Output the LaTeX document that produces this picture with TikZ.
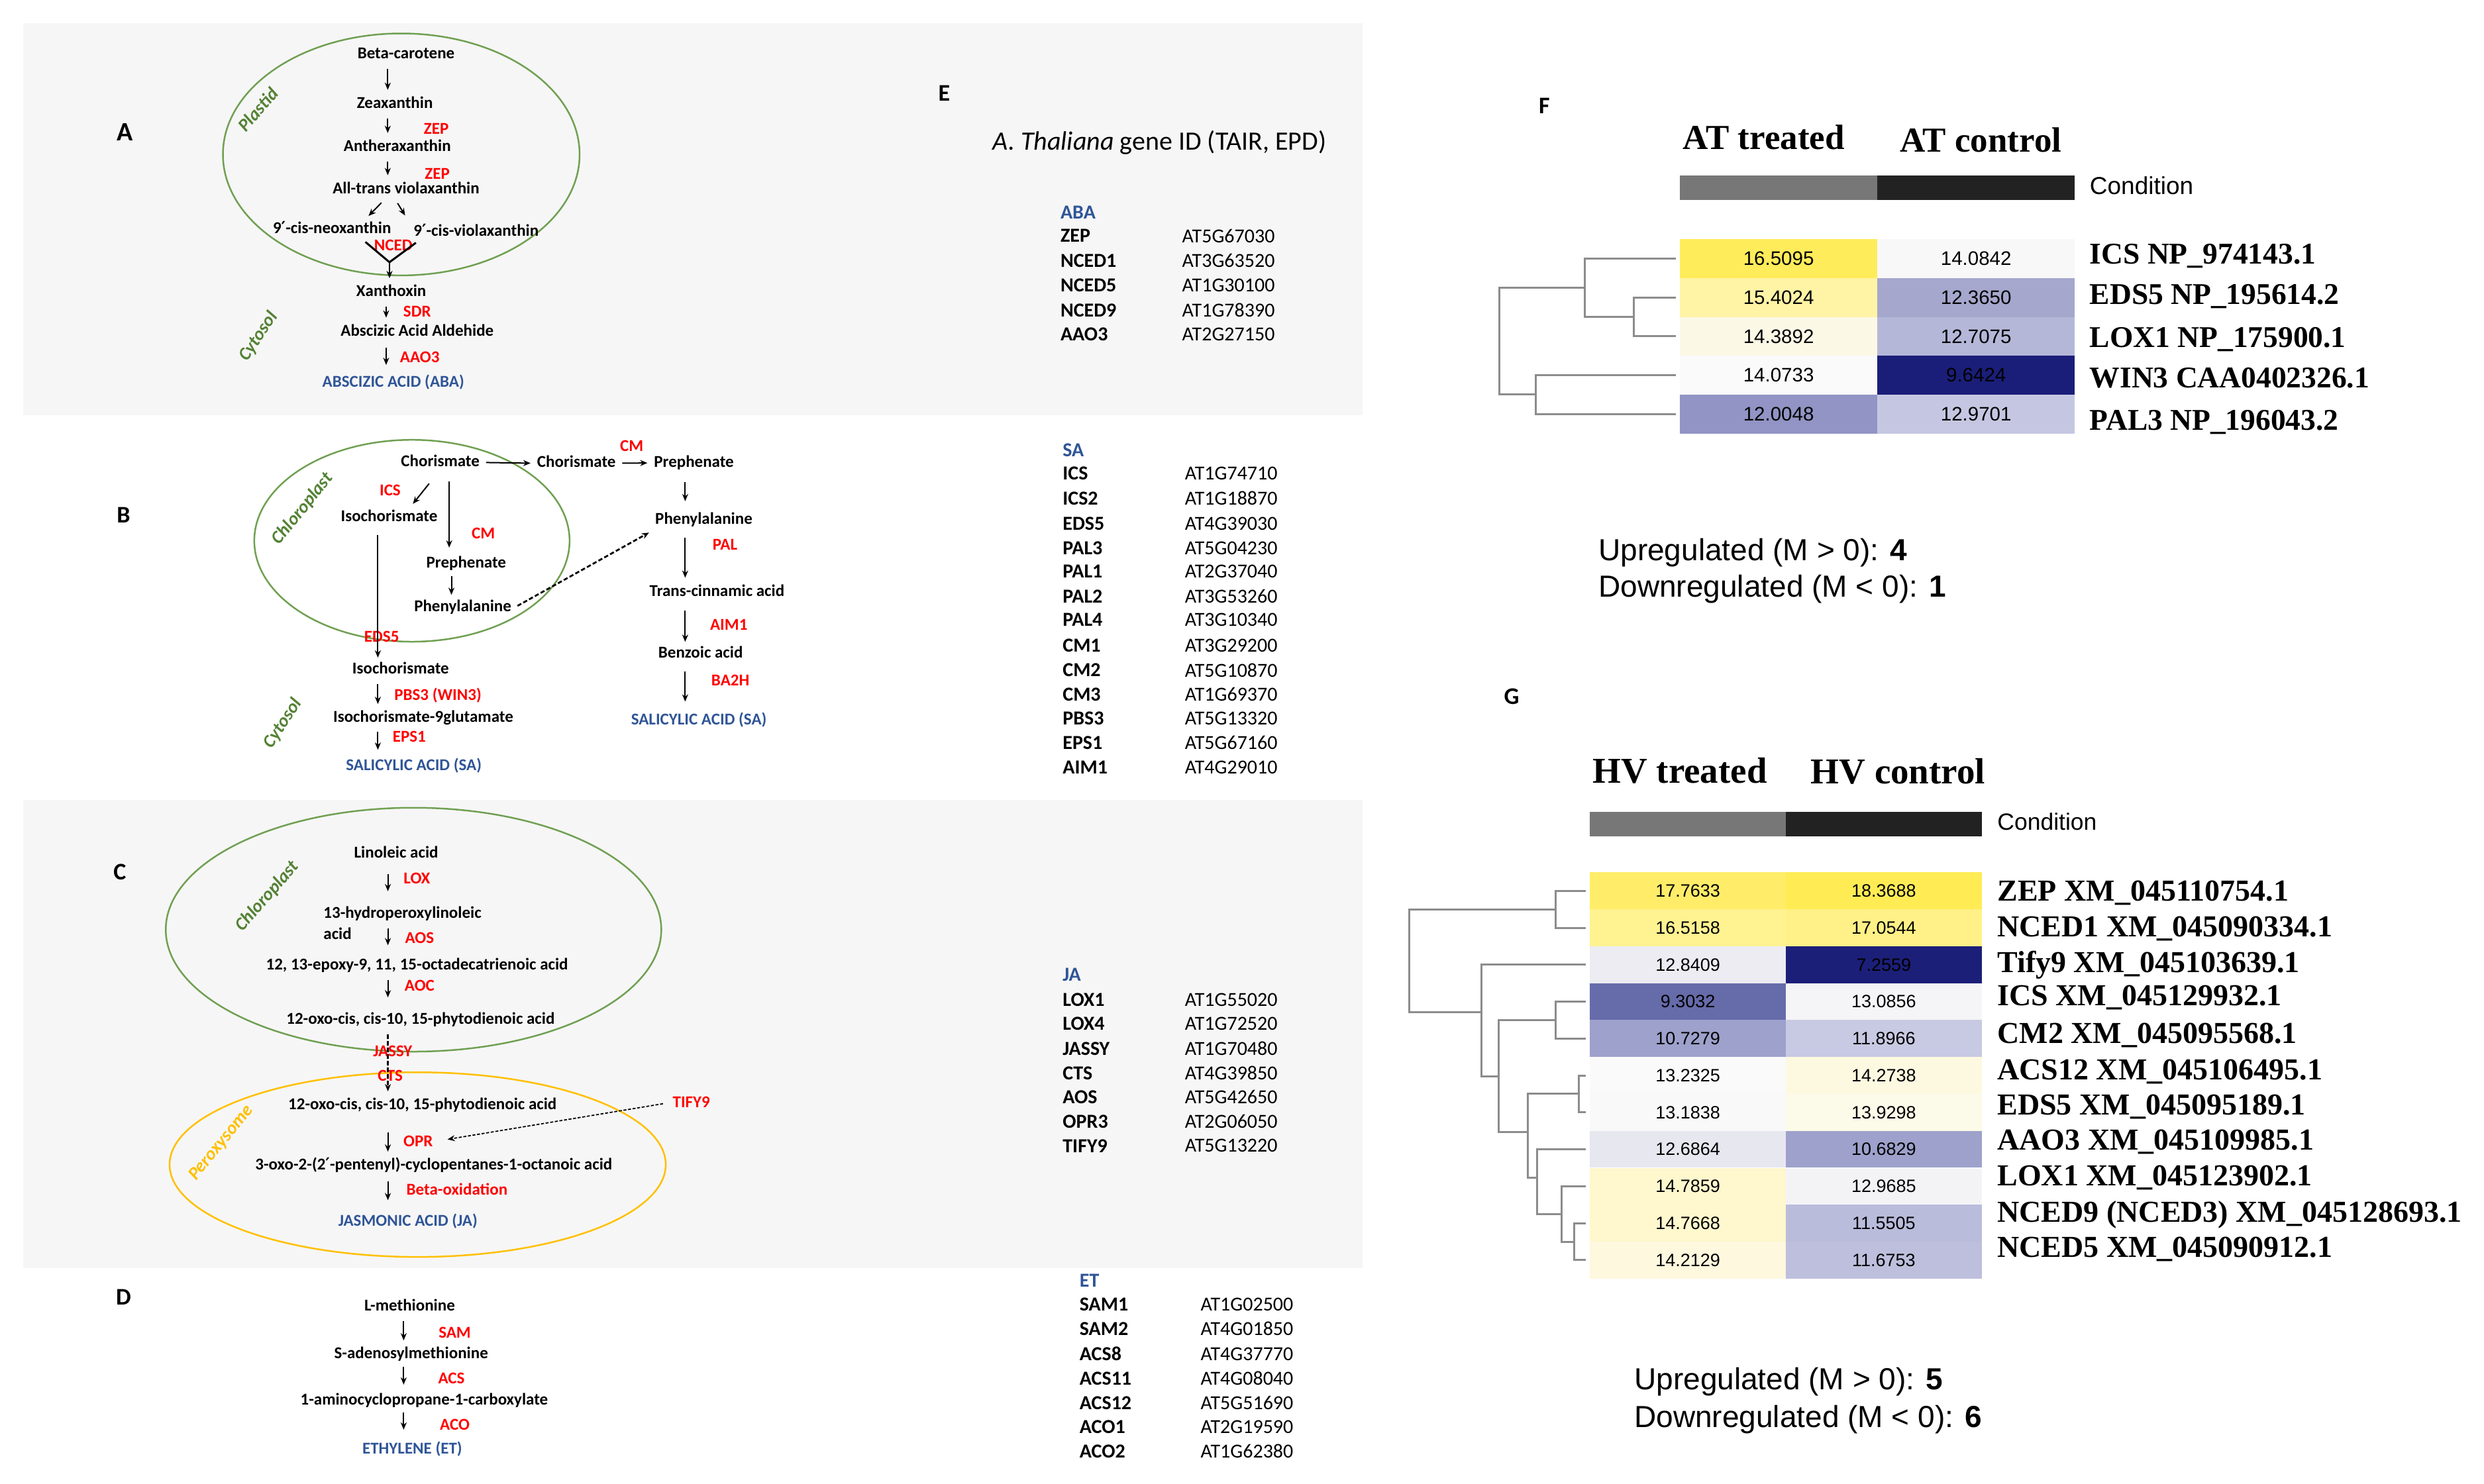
\documentclass[tikz,border=0pt]{standalone}
\usepackage{fontspec}
\setmainfont{Carlito}
\newfontfamily\tnr{Liberation Serif}
\newfontfamily\arl{Liberation Sans}
\newfontfamily\djv{DejaVu Sans}
\newcommand{\prm}{{\djv ′}}
\usepackage{xcolor}
\usepackage{tikz}
\usetikzlibrary{arrows.meta,calc}
\definecolor{plastgreen}{RGB}{84, 130, 53}
\definecolor{plastline}{RGB}{112, 160, 82}
\definecolor{perox}{RGB}{255, 192, 0}
\definecolor{hormone}{RGB}{47, 85, 151}
\definecolor{enzred}{RGB}{255, 0, 0}
\definecolor{panelbg}{RGB}{246, 246, 246}
\definecolor{dendrogray}{RGB}{140, 140, 140}

\tikzset{
  cpd/.style={font=\bfseries\fontsize{5}{6}\selectfont, inner sep=0.8pt, text height=3.5pt, text depth=1.1pt},
  enz/.style={font=\bfseries\fontsize{5}{6}\selectfont, inner sep=0.3pt, text=enzred},
  hrm/.style={cpd, text=hormone},
  cmpt/.style={font=\bfseries\itshape\fontsize{5.5}{6}\selectfont, text=plastgreen, inner sep=0pt},
  plbl/.style={font=\bfseries\fontsize{7.2}{8}\selectfont, inner sep=0pt},
  rxn/.style={-{Stealth[length=2.2pt,width=1.8pt]}, line width=0.4pt, shorten <=1pt, shorten >=1pt},
  rxndash/.style={rxn, dash pattern=on 1.3pt off 0.7pt, line width=0.55pt},
  rxndot/.style={rxn, dash pattern=on 0.9pt off 0.5pt, line width=0.35pt},
  gname/.style={font=\bfseries\fontsize{6}{7}\selectfont, anchor=west, inner sep=0pt},
  gid/.style={font=\fontsize{6}{7}\selectfont, anchor=west, inner sep=0pt},
  ghead/.style={gname, text=hormone},
  fcell/.style={minimum width=59.6pt, minimum height=11.73pt, inner sep=0pt, font=\arl\fontsize{5.9}{6}\selectfont},
  gcell/.style={minimum width=59.1pt, minimum height=11.15pt, inner sep=0pt, font=\arl\fontsize{5.4}{6}\selectfont},
  rowlbl/.style={font=\tnr\bfseries\fontsize{9.1}{10}\selectfont, anchor=base west, inner sep=0pt},
  colhdr/.style={font=\tnr\bfseries\fontsize{10.6}{12}\selectfont, inner sep=0pt},
  cndlbl/.style={font=\arl\fontsize{7.4}{8}\selectfont, anchor=west, inner sep=0pt},
  uplbl/.style={font=\arl\fontsize{9.2}{10}\selectfont, anchor=west, inner sep=0pt},
  dendro/.style={draw=dendrogray, line width=0.6pt},
  twig/.style={dendro, shorten >=1pt}
}

\begin{document}
\begin{tikzpicture}[x=0.4808pt,y=0.4808pt,yscale=-1,xscale=1]
\useasboundingbox (0,0) rectangle (1560,932);

%Shape: Rectangle
\fill[panelbg] (14.6,14.4) rectangle (855.5,260.7);
%Shape: Rectangle
\fill[panelbg] (14.6,502.7) rectangle (855.5,796.6);

%Shape: Ellipse
\draw[plastline, line width=0.5pt] (252,97) ellipse [x radius=112, y radius=76];
%Shape: Ellipse
\draw[plastline, line width=0.5pt] (258.7,339.7) ellipse [x radius=99, y radius=63.4];
%Shape: Ellipse
\draw[plastline, line width=0.5pt] (259.7,584) ellipse [x radius=155.6, y radius=76.6];
%Shape: Ellipse
\draw[perox, line width=0.5pt] (262.3,731.6) ellipse [x radius=155.8, y radius=58];

% Panel letters
\node[plbl, font=\bfseries\fontsize{8}{9}\selectfont] (lA) at (78.3,83.2) {A};
\node[plbl] (lB) at (77.6,323.6) {B};
\node[plbl] (lC) at (75.3,547.8) {C};
\node[plbl] (lD) at (77.6,815) {D};
\node[plbl] (lE) at (593,58.5) {E};
\node[plbl] (lF) at (969.8,66.3) {F};
\node[plbl] (lG) at (949.3,437.5) {G};

% Text Node -- panel A
\node[cpd] (bcar) at (255,34.5) {Beta-carotene};
\node[cpd] (zea) at (248,65.4) {Zeaxanthin};
\node[cpd] (anth) at (249.5,92.5) {Antheraxanthin};
\node[cpd] (atv) at (255,119) {All-trans violaxanthin};
\node[cpd] (neo) at (208.5,144) {9\prm-cis-neoxanthin};
\node[cpd] (vio) at (299,146) {9\prm-cis-violaxanthin};
\node[cpd] (xan) at (245.7,183.7) {Xanthoxin};
\node[cpd] (aald) at (262,208.5) {Abscizic Acid Aldehide};
\node[hrm] (aba) at (247,240.7) {ABSCIZIC ACID (ABA)};
\node[enz] (zep1) at (274,80.7) {ZEP};
\node[enz] (zep2) at (274.6,109) {ZEP};
\node[enz] (nced) at (247,154) {NCED};
\node[enz] (sdr) at (262,195.7) {SDR};
\node[enz] (aao) at (263.6,224.5) {AAO3};
\node[cmpt, rotate=49] (plastid) at (162,68.7) {Plastid};
\node[cmpt, rotate=56] (cytA) at (162.4,211.4) {Cytosol};

%Straight Lines -- panel A
\coordinate (colA) at (243.5,0);
\coordinate (colA2) at (242.5,0);
\draw[rxn] (bcar.south -| colA) -- (zea.north -| colA);
\draw[rxn] (zea.south -| colA) -- (anth.north -| colA);
\draw[rxn] (anth.south -| colA) -- (atv.north -| colA);
\draw[rxn] ($(atv.south)+(-14,0)$) -- ($(neo.north)+(21.5,0)$);
\draw[rxn] ($(atv.south)+(-6.4,0)$) -- ($(vio.north)+(-43.5,-2)$);
\coordinate (ncl) at (229.5,152);
\coordinate (ncr) at (261.2,152.5);
\coordinate (ncm) at (244.6,164.7);
\draw[line width=0.6pt] (ncl) -- (ncm) -- (ncr);
\draw[rxn, shorten <=0pt] (ncm) -- (xan.north -| ncm);
\draw[rxn] (xan.south -| colA2) -- (aald.north -| colA2);
\draw[rxn, shorten <=1.5pt, shorten >=2.2pt] (aald.south -| colA2) -- (aba.north -| colA2);

% Text Node -- panel B
\node[cpd] (cho1) at (276.5,290.5) {Chorismate};
\node[cpd] (cho2) at (362,291) {Chorismate};
\node[cpd] (preR) at (435.8,290.8) {Prephenate};
\node[enz] (cmR) at (396.7,280) {CM};
\node[enz] (ics) at (245,308) {ICS};
\node[cpd] (iso1) at (244.4,325) {Isochorismate};
\node[enz] (cmL) at (303.5,335.2) {CM};
\node[cpd] (preL) at (292.8,354.4) {Prephenate};
\node[cpd] (pheL) at (290.6,381.6) {Phenylalanine};
\node[cpd] (pheR) at (442,326.7) {Phenylalanine};
\node[enz] (pal) at (455.3,342) {PAL};
\node[cpd] (tca) at (450.3,371.9) {Trans-cinnamic acid};
\node[enz] (aim) at (457.7,392.4) {AIM1};
\node[cpd] (bzo) at (440,410.9) {Benzoic acid};
\node[enz] (ba2h) at (458.7,427.3) {BA2H};
\node[hrm] (saR) at (438.9,452.8) {SALICYLIC ACID (SA)};
\node[enz] (eds) at (239.7,399.8) {EDS5};
\node[cpd] (iso2) at (251.6,420.8) {Isochorismate};
\node[enz] (pbs) at (275,436.9) {PBS3 (WIN3)};
\node[cpd] (igl) at (265.8,451.2) {Isochorismate-9glutamate};
\node[enz] (eps) at (257,462.7) {EPS1};
\node[hrm] (saL) at (259.9,481.6) {SALICYLIC ACID (SA)};
\node[cmpt, rotate=51] (chlB) at (190,319.6) {Chloroplast};
\node[cmpt, rotate=57] (cytB) at (177.6,454.5) {Cytosol};

%Straight Lines -- panel B
\coordinate (colB1) at (282.1,0);
\coordinate (colB2) at (283.5,0);
\coordinate (colB3) at (237.3,0);
\coordinate (colB4) at (430.3,0);
\draw[rxn] (cho1.east) -- (cho2.west);
\draw[rxn] (cho2.east) -- (preR.west);
\draw[rxn] ($(cho1.south)+(-5.7,4.8)$) -- ($(iso1.north)+(13.6,0)$);
\draw[rxn, shorten <=2.5pt, shorten >=1.7pt] (cho1.south -| colB1) -- (preL.north -| colB1);
\draw[rxn, shorten <=0.3pt, shorten >=0.5pt] (preL.south -| colB2) -- (pheL.north -| colB2);
\draw[rxn, shorten <=2pt, shorten >=0.4pt] (iso1.south -| colB3) -- (iso2.north -| colB3);
\draw[rxn] (iso2.south -| colB3) -- (igl.north -| colB3);
\draw[rxn, shorten <=0.7pt, shorten >=1.8pt] (igl.south -| colB3) -- (saL.north -| colB3);
\draw[rxn, shorten <=2.4pt, shorten >=2.4pt] (preR.south -| colB4) -- (pheR.north -| colB4);
\draw[rxn, shorten <=2pt] (pheR.south -| colB4) -- (tca.north -| colB4);
\draw[rxn, shorten <=2.3pt, shorten >=0.4pt] (tca.south -| colB4) -- (bzo.north -| colB4);
\draw[rxn, shorten <=1.9pt, shorten >=2.5pt] (bzo.south -| colB4) -- (saR.north -| colB4);
\draw[rxndash] (pheL.east) -- (pheR.south west);

% Text Node -- panel C
\node[cpd] (lin) at (248.8,536.5) {Linoleic acid};
\node[cpd, anchor=west] (hpl) at (201.1,574.2) {13-hydroperoxylinoleic};
\node[cpd, anchor=west] (hpla) at (201.1,587.5) {acid};
\node[cpd] (epx) at (261.9,606.7) {12, 13-epoxy-9, 11, 15-octadecatrienoic acid};
\node[cpd] (opda1) at (264.1,640.9) {12-oxo-cis, cis-10, 15-phytodienoic acid};
\node[cpd] (opda2) at (265.3,694.5) {12-oxo-cis, cis-10, 15-phytodienoic acid};
\node[cpd] (opc) at (272.4,732.4) {3-oxo-2-(2\prm-pentenyl)-cyclopentanes-1-octanoic acid};
\node[hrm] (ja) at (256.2,767.7) {JASMONIC ACID (JA)};
\node[enz] (lox) at (261.8,551.8) {LOX};
\node[enz] (aos) at (263.5,589) {AOS};
\node[enz] (aoc) at (263.5,619.3) {AOC};
\node[enz] (jassy) at (246.6,660.5) {JASSY};
\node[enz] (cts) at (245.1,675.8) {CTS};
\node[enz] (opr) at (262.6,717.1) {OPR};
\node[enz] (betox) at (287,746.9) {Beta-oxidation};
\node[enz] (tify) at (434.2,692.5) {TIFY9};
\node[cmpt, rotate=49] (chlC) at (167.8,563) {Chloroplast};
\node[cmpt, rotate=51, text=perox] (perx) at (139,718) {Peroxysome};

%Straight Lines -- panel C
\coordinate (colC) at (243.6,0);
\draw[rxn, shorten <=2.8pt, shorten >=3.6pt] (lin.south -| colC) -- (hpl.north -| colC);
\draw[rxn, shorten >=2.9pt] (hpl.south -| colC) -- (epx.north -| colC);
\draw[rxn, shorten >=3.6pt] (epx.south -| colC) -- (opda1.north -| colC);
\draw[rxndash, line width=0.45pt] (opda1.south -| colC) -- (opda2.north -| colC);
\draw[rxn, shorten <=4.8pt] (opda2.south -| colC) -- (opc.north -| colC);
\draw[rxn, shorten <=1.4pt, shorten >=3.3pt] (opc.south -| colC) -- (ja.north -| colC);
\draw[rxndot, shorten <=2.5pt, shorten >=4pt] (tify.west) -- (opr.east);

% Text Node -- panel D
\node[cpd] (met) at (257.3,821) {L-methionine};
\node[cpd] (sad) at (258.2,851) {S-adenosylmethionine};
\node[cpd] (acc) at (266.4,880) {1-aminocyclopropane-1-carboxylate};
\node[hrm] (eth) at (258.9,911) {ETHYLENE (ET)};
\node[enz] (sam) at (285.6,837) {SAM};
\node[enz] (acs) at (283.5,866) {ACS};
\node[enz] (aco) at (285.6,895) {ACO};

%Straight Lines -- panel D
\coordinate (colD) at (253.5,0);
\draw[rxn] (met.south -| colD) -- (sad.north -| colD);
\draw[rxn, shorten <=0.3pt, shorten >=1.6pt] (sad.south -| colD) -- (acc.north -| colD);
\draw[rxn, shorten <=0.2pt, shorten >=2.9pt] (acc.south -| colD) -- (eth.north -| colD);

% Text Node -- panel E
\node[font=\fontsize{8}{9}\selectfont, inner sep=0pt] (etitle) at (728.2,89.7) {\textit{A. Thaliana} gene ID (TAIR, EPD)};
\node[ghead] (abaH) at (665.6,133.5) {ABA};
\node[gname] (eZEP) at (665.6,148.1) {ZEP};
\node[gname] (eNCED1) at (665.6,163.6) {NCED1};
\node[gname] (eNCED5) at (665.6,179.3) {NCED5};
\node[gname] (eNCED9) at (665.6,194.8) {NCED9};
\node[gname] (eAAO3) at (665.6,210) {AAO3};
\node[gid] (iZEP) at (742,148.1) {AT5G67030};
\node[gid] (iNCED1) at (742,163.6) {AT3G63520};
\node[gid] (iNCED5) at (742,179.3) {AT1G30100};
\node[gid] (iNCED9) at (742,194.8) {AT1G78390};
\node[gid] (iAAO3) at (742,210) {AT2G27150};

\node[ghead] (saH) at (667,282.9) {SA};
\node[gname] (eICS) at (667,297.5) {ICS};
\node[gname] (eICS2) at (667,313) {ICS2};
\node[gname] (eEDS5) at (667,329) {EDS5};
\node[gname] (ePAL3) at (667,344.2) {PAL3};
\node[gname] (ePAL1) at (667,359.1) {PAL1};
\node[gname] (ePAL2) at (667,374.5) {PAL2};
\node[gname] (ePAL4) at (667,389.4) {PAL4};
\node[gname] (eCM1) at (667,405.5) {CM1};
\node[gname] (eCM2) at (667,421) {CM2};
\node[gname] (eCM3) at (667,436.1) {CM3};
\node[gname] (ePBS3) at (667,451.3) {PBS3};
\node[gname] (eEPS1) at (667,466.5) {EPS1};
\node[gname] (eAIM1) at (667,482.2) {AIM1};
\node[gid] (iICS) at (743.7,297.5) {AT1G74710};
\node[gid] (iICS2) at (743.7,313) {AT1G18870};
\node[gid] (iEDS5) at (743.7,329) {AT4G39030};
\node[gid] (iPAL3) at (743.7,344.2) {AT5G04230};
\node[gid] (iPAL1) at (743.7,359.1) {AT2G37040};
\node[gid] (iPAL2) at (743.7,374.5) {AT3G53260};
\node[gid] (iPAL4) at (743.7,389.4) {AT3G10340};
\node[gid] (iCM1) at (743.7,405.5) {AT3G29200};
\node[gid] (iCM2) at (743.7,421) {AT5G10870};
\node[gid] (iCM3) at (743.7,436.1) {AT1G69370};
\node[gid] (iPBS3) at (743.7,451.3) {AT5G13320};
\node[gid] (iEPS1) at (743.7,466.5) {AT5G67160};
\node[gid] (iAIM1) at (743.7,482.2) {AT4G29010};

\node[ghead] (jaH) at (667,612.3) {JA};
\node[gname] (eLOX1) at (667,627.9) {LOX1};
\node[gname] (eLOX4) at (667,642.9) {LOX4};
\node[gname] (eJASSY) at (667,658.8) {JASSY};
\node[gname] (eCTS) at (667,674.1) {CTS};
\node[gname] (eAOS) at (667,689.2) {AOS};
\node[gname] (eOPR3) at (667,704.5) {OPR3};
\node[gname] (eTIFY9) at (667,719.8) {TIFY9};
\node[gid] (iLOX1) at (743.7,627.9) {AT1G55020};
\node[gid] (iLOX4) at (743.7,642.9) {AT1G72520};
\node[gid] (iJASSY) at (743.7,658.8) {AT1G70480};
\node[gid] (iCTS) at (743.7,674.1) {AT4G39850};
\node[gid] (iAOS) at (743.7,689.2) {AT5G42650};
\node[gid] (iOPR3) at (743.7,704.5) {AT2G06050};
\node[gid] (iTIFY9) at (743.7,719.8) {AT5G13220};

\node[ghead] (etH) at (677.6,804.6) {ET};
\node[gname] (eSAM1) at (677.6,819.6) {SAM1};
\node[gname] (eSAM2) at (677.6,834.6) {SAM2};
\node[gname] (eACS8) at (677.6,850.5) {ACS8};
\node[gname] (eACS11) at (677.6,865.9) {ACS11};
\node[gname] (eACS12) at (677.6,881.2) {ACS12};
\node[gname] (eACO1) at (677.6,896.2) {ACO1};
\node[gname] (eACO2) at (677.6,911.6) {ACO2};
\node[gid] (iSAM1) at (753.6,819.6) {AT1G02500};
\node[gid] (iSAM2) at (753.6,834.6) {AT4G01850};
\node[gid] (iACS8) at (753.6,850.5) {AT4G37770};
\node[gid] (iACS11) at (753.6,865.9) {AT4G08040};
\node[gid] (iACS12) at (753.6,881.2) {AT5G51690};
\node[gid] (iACO1) at (753.6,896.2) {AT2G19590};
\node[gid] (iACO2) at (753.6,911.6) {AT1G62380};

% Heatmap F
\node[colhdr] (fhT) at (1107.7,86.2) {AT treated};
\node[colhdr] (fhC) at (1244,87.8) {AT control};
\fill[fill={rgb, 255:red, 119; green, 119; blue, 119}] (1055,110.4) rectangle (1179,125.6);
\fill[fill={rgb, 255:red, 34; green, 34; blue, 34}] (1179,110.4) rectangle (1303,125.6);
\node[cndlbl] (fcond) at (1312,116.4) {Condition};

\node[fcell, fill={rgb, 255:red, 255; green, 236; blue, 90}] (fICSt) at (1117,162.5) {16.5095};
\node[fcell, fill={rgb, 255:red, 248; green, 248; blue, 248}] (fICSc) at (1241,162.5) {14.0842};
\node[fcell, fill={rgb, 255:red, 255; green, 243; blue, 165}] (fEDSt) at (1117,186.9) {15.4024};
\node[fcell, fill={rgb, 255:red, 165; green, 167; blue, 205}] (fEDSc) at (1241,186.9) {12.3650};
\node[fcell, fill={rgb, 255:red, 251; green, 248; blue, 230}] (fLOXt) at (1117,211.3) {14.3892};
\node[fcell, fill={rgb, 255:red, 181; green, 183; blue, 216}] (fLOXc) at (1241,211.3) {12.7075};
\node[fcell, fill={rgb, 255:red, 250; green, 250; blue, 250}] (fWINt) at (1117,235.7) {14.0733};
\node[fcell, fill={rgb, 255:red, 26; green, 30; blue, 120}] (fWINc) at (1241,235.7) {9.6424};
\node[fcell, fill={rgb, 255:red, 145; green, 148; blue, 196}] (fPALt) at (1117,260.1) {12.0048};
\node[fcell, fill={rgb, 255:red, 197; green, 199; blue, 226}] (fPALc) at (1241,260.1) {12.9701};

\node[rowlbl] (flICS) at (1312,165.7) {ICS NP\_974143.1};
\node[rowlbl] (flEDS) at (1312,191.2) {EDS5 NP\_195614.2};
\node[rowlbl] (flLOX) at (1312,218.2) {LOX1 NP\_175900.1};
\node[rowlbl] (flWIN) at (1312,243.7) {WIN3 CAA0402326.1};
\node[rowlbl] (flPAL) at (1312,270) {PAL3 NP\_196043.2};

%Dendrogram F
\coordinate (fd23) at (1026.1,199.1);
\coordinate (fd123) at (995.3,180.8);
\coordinate (fd45) at (964.4,247.9);
\coordinate (froot) at (941.8,214.4);
\draw[twig] (fd23) |- (fEDSt.west);
\draw[twig] (fd23) |- (fLOXt.west);
\draw[twig] (fd123) |- (fICSt.west);
\draw[dendro] (fd123) |- (fd23);
\draw[twig] (fd45) |- (fWINt.west);
\draw[twig] (fd45) |- (fPALt.west);
\draw[dendro] (froot) |- (fd123);
\draw[dendro] (froot) |- (fd45);

\node[uplbl] (fup) at (1003.5,347) {Upregulated (M > 0): \textbf{4}};
\node[uplbl] (fdown) at (1003.5,370.2) {Downregulated (M < 0): \textbf{1}};

% Heatmap G
\node[colhdr, font=\tnr\bfseries\fontsize{11}{12}\selectfont] (ghT) at (1055,484) {HV treated};
\node[colhdr, font=\tnr\bfseries\fontsize{11}{12}\selectfont] (ghC) at (1192,484.6) {HV control};
\fill[fill={rgb, 255:red, 119; green, 119; blue, 119}] (998.5,509.8) rectangle (1121.5,525.2);
\fill[fill={rgb, 255:red, 34; green, 34; blue, 34}] (1121.5,509.8) rectangle (1244.5,525.2);
\node[cndlbl, font=\arl\fontsize{7.1}{8}\selectfont] (gcond) at (1254,516) {Condition};

\node[gcell, fill={rgb, 255:red, 255; green, 237; blue, 105}] (gZEPt) at (1060,559.6) {17.7633};
\node[gcell, fill={rgb, 255:red, 255; green, 236; blue, 85}] (gZEPc) at (1183,559.6) {18.3688};
\node[gcell, fill={rgb, 255:red, 255; green, 242; blue, 145}] (gNC1t) at (1060,582.8) {16.5158};
\node[gcell, fill={rgb, 255:red, 255; green, 241; blue, 135}] (gNC1c) at (1183,582.8) {17.0544};
\node[gcell, fill={rgb, 255:red, 236; green, 236; blue, 242}] (gTIFt) at (1060,606) {12.8409};
\node[gcell, fill={rgb, 255:red, 28; green, 31; blue, 120}] (gTIFc) at (1183,606) {7.2559};
\node[gcell, fill={rgb, 255:red, 102; green, 107; blue, 170}] (gICSt) at (1060,629.2) {9.3032};
\node[gcell, fill={rgb, 255:red, 245; green, 245; blue, 247}] (gICSc) at (1183,629.2) {13.0856};
\node[gcell, fill={rgb, 255:red, 158; green, 161; blue, 203}] (gCM2t) at (1060,652.4) {10.7279};
\node[gcell, fill={rgb, 255:red, 200; green, 201; blue, 226}] (gCM2c) at (1183,652.4) {11.8966};
\node[gcell, fill={rgb, 255:red, 250; green, 250; blue, 250}] (gACSt) at (1060,675.6) {13.2325};
\node[gcell, fill={rgb, 255:red, 253; green, 249; blue, 225}] (gACSc) at (1183,675.6) {14.2738};
\node[gcell, fill={rgb, 255:red, 249; green, 249; blue, 249}] (gEDSt) at (1060,698.8) {13.1838};
\node[gcell, fill={rgb, 255:red, 252; green, 250; blue, 232}] (gEDSc) at (1183,698.8) {13.9298};
\node[gcell, fill={rgb, 255:red, 231; green, 231; blue, 240}] (gAAOt) at (1060,722) {12.6864};
\node[gcell, fill={rgb, 255:red, 158; green, 161; blue, 203}] (gAAOc) at (1183,722) {10.6829};
\node[gcell, fill={rgb, 255:red, 255; green, 247; blue, 205}] (gLOXt) at (1060,745.2) {14.7859};
\node[gcell, fill={rgb, 255:red, 243; green, 243; blue, 246}] (gLOXc) at (1183,745.2) {12.9685};
\node[gcell, fill={rgb, 255:red, 255; green, 247; blue, 205}] (gN9t) at (1060,768.4) {14.7668};
\node[gcell, fill={rgb, 255:red, 186; green, 188; blue, 220}] (gN9c) at (1183,768.4) {11.5505};
\node[gcell, fill={rgb, 255:red, 253; green, 248; blue, 222}] (gN5t) at (1060,791.6) {14.2129};
\node[gcell, fill={rgb, 255:red, 189; green, 191; blue, 221}] (gN5c) at (1183,791.6) {11.6753};

\node[rowlbl, font=\tnr\bfseries\fontsize{9.2}{10}\selectfont] (glZEP) at (1254,565.8) {ZEP XM\_045110754.1};
\node[rowlbl, font=\tnr\bfseries\fontsize{9.2}{10}\selectfont] (glNC1) at (1254,588.3) {NCED1 XM\_045090334.1};
\node[rowlbl, font=\tnr\bfseries\fontsize{9.2}{10}\selectfont] (glTIF) at (1254,610.9) {Tify9 XM\_045103639.1};
\node[rowlbl, font=\tnr\bfseries\fontsize{9.2}{10}\selectfont] (glICS) at (1254,631.7) {ICS XM\_045129932.1};
\node[rowlbl, font=\tnr\bfseries\fontsize{9.2}{10}\selectfont] (glCM2) at (1254,655.2) {CM2 XM\_045095568.1};
\node[rowlbl, font=\tnr\bfseries\fontsize{9.2}{10}\selectfont] (glACS) at (1254,678.1) {ACS12 XM\_045106495.1};
\node[rowlbl, font=\tnr\bfseries\fontsize{9.2}{10}\selectfont] (glEDS) at (1254,700.3) {EDS5 XM\_045095189.1};
\node[rowlbl, font=\tnr\bfseries\fontsize{9.2}{10}\selectfont] (glAAO) at (1254,722.5) {AAO3 XM\_045109985.1};
\node[rowlbl, font=\tnr\bfseries\fontsize{9.2}{10}\selectfont] (glLOX) at (1254,744.7) {LOX1 XM\_045123902.1};
\node[rowlbl, font=\tnr\bfseries\fontsize{9.2}{10}\selectfont] (glN9) at (1254,767.5) {NCED9 (NCED3) XM\_045128693.1};
\node[rowlbl, font=\tnr\bfseries\fontsize{9.2}{10}\selectfont] (glN5) at (1254,789.7) {NCED5 XM\_045090912.1};

%Dendrogram G
\coordinate (gA) at (977.1,571.2);
\coordinate (gB) at (977.1,640.8);
\coordinate (gC) at (991.6,687.2);
\coordinate (gD) at (988.5,780);
\coordinate (gE) at (980.6,762.6);
\coordinate (gF) at (965.3,740);
\coordinate (gG) at (959.6,711);
\coordinate (gH) at (941.2,676);
\coordinate (gI) at (930.3,636);
\coordinate (gR) at (885.2,603.6);
\draw[twig] (gA) |- (gZEPt.west);
\draw[twig] (gA) |- (gNC1t.west);
\draw[twig] (gB) |- (gICSt.west);
\draw[twig] (gB) |- (gCM2t.west);
\draw[twig] (gC) |- (gACSt.west);
\draw[twig] (gC) |- (gEDSt.west);
\draw[twig] (gD) |- (gN9t.west);
\draw[twig] (gD) |- (gN5t.west);
\draw[twig] (gE) |- (gLOXt.west);
\draw[dendro] (gE) |- (gD);
\draw[twig] (gF) |- (gAAOt.west);
\draw[dendro] (gF) |- (gE);
\draw[dendro] (gG) |- (gC);
\draw[dendro] (gG) |- (gF);
\draw[dendro] (gH) |- (gB);
\draw[dendro] (gH) |- (gG);
\draw[twig] (gI) |- (gTIFt.west);
\draw[dendro] (gI) |- (gH);
\draw[dendro] (gR) |- (gA);
\draw[dendro] (gR) |- (gI);

\node[uplbl] (gup) at (1026,868) {Upregulated (M > 0): \textbf{5}};
\node[uplbl] (gdown) at (1026,891.6) {Downregulated (M < 0): \textbf{6}};

\end{tikzpicture}
\end{document}
